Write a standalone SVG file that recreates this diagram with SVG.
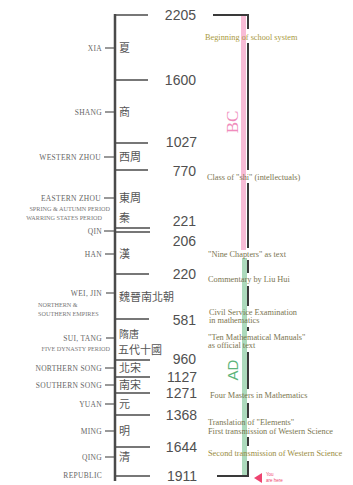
<svg xmlns="http://www.w3.org/2000/svg" width="353" height="485" viewBox="0 0 353 485">
<style>
.ax{stroke:#4a4a4a;stroke-width:2.5;fill:none}
.tk{stroke:#4a4a4a;stroke-width:1.4;fill:none}
.ds{stroke:#555;stroke-width:1.2}
.yr{font-family:"Liberation Sans",Arial,sans-serif;font-size:14px;fill:#505050;text-anchor:end}
.dy{font-family:"Liberation Serif","Times New Roman",serif;font-size:7.5px;fill:#666;text-anchor:end;letter-spacing:0.3px}
.dy2{font-family:"Liberation Serif","Times New Roman",serif;font-size:6.2px;fill:#777;text-anchor:end}
.cn{font-family:"Noto Sans CJK TC","Noto Sans CJK SC",sans-serif;font-size:11px;fill:#555}
.ev{font-family:"Liberation Serif","Times New Roman",serif;font-size:8.3px;fill:#7a7550}
.bl{stroke:#3a3a3a;stroke-width:2;fill:none}
</style>
<g id="axis">
<line class="ax" x1="115" y1="14" x2="115" y2="481"/>
</g>
<g id="connectors">
<line class="tk" x1="115" y1="15" x2="148" y2="15"/>
<line class="tk" x1="115" y1="80" x2="148" y2="80"/>
<line class="tk" x1="115" y1="143" x2="148" y2="143"/>
<line class="tk" x1="115" y1="170" x2="148" y2="170"/>
<line class="tk" x1="115" y1="228" x2="150" y2="228"/>
<line class="tk" x1="115" y1="232" x2="150" y2="232"/>
<line class="tk" x1="115" y1="274" x2="149" y2="274"/>
<line class="tk" x1="115" y1="319" x2="149" y2="319"/>
<line class="tk" x1="115" y1="360" x2="150" y2="360"/>
<line class="tk" x1="115" y1="377" x2="150" y2="377"/>
<line class="tk" x1="115" y1="393" x2="150" y2="393"/>
<line class="tk" x1="115" y1="415" x2="150" y2="415"/>
<line class="tk" x1="115" y1="447" x2="150" y2="447"/>
<line class="tk" x1="115" y1="476" x2="150" y2="476"/>
<line class="ds" x1="105" y1="48" x2="114" y2="48"/>
<line class="ds" x1="105" y1="112" x2="114" y2="112"/>
<line class="ds" x1="104" y1="157" x2="114" y2="157"/>
<line class="ds" x1="104" y1="198" x2="114" y2="198"/>
<line class="ds" x1="104" y1="231" x2="114" y2="231"/>
<line class="ds" x1="105" y1="254" x2="114" y2="254"/>
<line class="ds" x1="106" y1="293" x2="114" y2="293"/>
<line class="ds" x1="106" y1="338" x2="114" y2="338"/>
<line class="ds" x1="105" y1="368" x2="114" y2="368"/>
<line class="ds" x1="105" y1="385" x2="114" y2="385"/>
<line class="ds" x1="105" y1="404" x2="114" y2="404"/>
<line class="ds" x1="105" y1="431" x2="114" y2="431"/>
<line class="ds" x1="105" y1="457" x2="114" y2="457"/>
</g>
<g id="years">
<text class="yr" x="196" y="20">2205</text>
<text class="yr" x="196" y="85">1600</text>
<text class="yr" x="197" y="147">1027</text>
<text class="yr" x="196" y="176">770</text>
<text class="yr" x="196" y="226">221</text>
<text class="yr" x="196" y="246">206</text>
<text class="yr" x="196" y="279">220</text>
<text class="yr" x="196" y="325">581</text>
<text class="yr" x="196" y="364">960</text>
<text class="yr" x="197" y="382">1127</text>
<text class="yr" x="197" y="398">1271</text>
<text class="yr" x="197" y="420">1368</text>
<text class="yr" x="197" y="452">1644</text>
<text class="yr" x="197" y="481">1911</text>
</g>
<g id="dynasties">
<text class="dy" x="102" y="51">XIA</text>
<text class="dy" x="102" y="115">SHANG</text>
<text class="dy" x="101" y="160">WESTERN ZHOU</text>
<text class="dy" x="101" y="201">EASTERN ZHOU</text>
<text class="dy2" x="110" y="211">SPRING &amp; AUTUMN PERIOD</text>
<text class="dy2" x="102" y="220">WARRING STATES PERIOD</text>
<text class="dy" x="102" y="234">QIN</text>
<text class="dy" x="102" y="257">HAN</text>
<text class="dy" x="102" y="296">WEI, JIN</text>
<text class="dy2" x="38" y="307" style="text-anchor:start">NORTHERN &amp;</text>
<text class="dy2" x="38" y="316" style="text-anchor:start">SOUTHERN EMPIRES</text>
<text class="dy" x="102" y="341">SUI, TANG</text>
<text class="dy2" x="110" y="351">FIVE DYNASTY PERIOD</text>
<text class="dy" x="102" y="371">NORTHERN SONG</text>
<text class="dy" x="102" y="388">SOUTHERN SONG</text>
<text class="dy" x="102" y="407">YUAN</text>
<text class="dy" x="102" y="434">MING</text>
<text class="dy" x="102" y="460">QING</text>
<text class="dy" x="102" y="478">REPUBLIC</text>
</g>
<g id="chinese">
<text class="cn" x="119" y="52">夏</text>
<text class="cn" x="119" y="116">商</text>
<text class="cn" x="119" y="161">西周</text>
<text class="cn" x="119" y="202">東周</text>
<text class="cn" x="119" y="222">秦</text>
<text class="cn" x="119" y="258">漢</text>
<text class="cn" x="119" y="301">魏晉南北朝</text>
<text class="cn" x="119" y="338" style="font-size:10px">隋唐</text>
<text class="cn" x="118" y="354" style="font-size:11px">五代十國</text>
<text class="cn" x="119" y="372">北宋</text>
<text class="cn" x="119" y="389">南宋</text>
<text class="cn" x="119" y="408">元</text>
<text class="cn" x="119" y="435">明</text>
<text class="cn" x="119" y="461">清</text>
</g>
<g id="era-bars">
<rect x="241" y="15" width="5" height="235" fill="#f8bcd6"/>
<rect x="242" y="258" width="5" height="218" fill="#acdabc"/>
<text x="238" y="122" transform="rotate(-90 238 122)" text-anchor="middle" style="font-family:'Liberation Serif',serif;font-size:17px;fill:#f08cbc">BC</text>
<text x="238" y="370" transform="rotate(-90 238 370)" text-anchor="middle" style="font-family:'Liberation Sans',sans-serif;font-size:15px;fill:#5cb47a">AD</text>
</g>
<g id="timeline-right">
<line class="bl" x1="213" y1="15" x2="249" y2="15"/>
<line class="bl" x1="248" y1="15" x2="248" y2="29"/>
<line class="bl" x1="248" y1="43" x2="248" y2="170"/>
<line class="bl" x1="248" y1="183" x2="248" y2="248"/>
<line class="bl" x1="248" y1="260" x2="248" y2="273"/>
<line class="bl" x1="248" y1="286" x2="248" y2="306"/>
<line class="bl" x1="248" y1="327" x2="248" y2="331"/>
<line class="bl" x1="248" y1="352" x2="248" y2="389"/>
<line class="bl" x1="248" y1="403" x2="248" y2="418"/>
<line class="bl" x1="248" y1="437" x2="248" y2="446"/>
<line class="bl" x1="248" y1="461" x2="248" y2="476"/>
<line class="bl" x1="217" y1="476" x2="249" y2="476"/>
<polygon points="254,478 262,473 262,483" fill="#ee4470"/>
<text x="266" y="476" style="font-family:'Liberation Sans',sans-serif;font-size:4.5px;fill:#ee4470">You</text>
<text x="266" y="482" style="font-family:'Liberation Sans',sans-serif;font-size:4.5px;fill:#ee4470">are here</text>
</g>
<g id="events">
<text class="ev" x="205" y="40" style="fill:#a99a3e">Beginning of school system</text>
<text class="ev" x="207" y="180">Class of "shi" (intellectuals)</text>
<text class="ev" x="208" y="257">"Nine Chapters" as text</text>
<text class="ev" x="208" y="282">Commentary by Liu Hui</text>
<text class="ev" x="209" y="315">Civil Service Examination</text>
<text class="ev" x="209" y="323">in mathematics</text>
<text class="ev" x="208" y="340">"Ten Mathematical Manuals"</text>
<text class="ev" x="208" y="348">as official text</text>
<text class="ev" x="210" y="398">Four Masters in Mathematics</text>
<text class="ev" x="208" y="425">Translation of "Elements"</text>
<text class="ev" x="208" y="434">First transmission of Western Science</text>
<text class="ev" x="208" y="456" style="fill:#9a8c3e">Second transmission of Western Science</text>
</g>
</svg>
